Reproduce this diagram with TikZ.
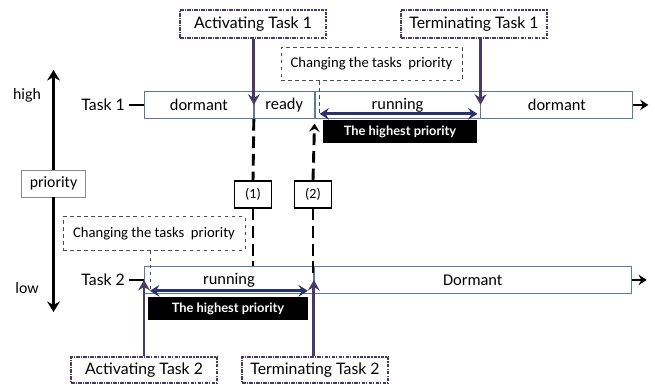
\documentclass[tikz,border=0pt]{standalone}
\usepackage{fontspec}
\setmainfont{Carlito}
\newfontfamily\gillfont{Lato}
\usetikzlibrary{positioning, arrows.meta}

\definecolor{barline}{RGB}{90,120,160}
\definecolor{evtline}{RGB}{72,58,102}
\definecolor{prioline}{RGB}{40,50,110}

\tikzset{
  phase/.style={draw=barline, line width=0.7pt, minimum height=0.81cm, inner sep=0pt, font=\fontsize{14}{16}\selectfont},
  event/.style={draw=evtline, line width=1.2pt, dash pattern=on 3pt off 1pt on 1pt off 1pt, minimum width=4.38cm, minimum height=0.84cm, inner sep=0pt, font=\gillfont\fontsize{13.5}{16}\selectfont},
  change/.style={draw=black!70, dashed, line width=0.6pt, minimum height=1cm, inner sep=0pt, font=\fontsize{12.5}{15}\selectfont},
  hibox/.style={fill=black, text=white, minimum height=0.69cm, inner sep=0pt, font=\gillfont\bfseries\fontsize{11}{13}\selectfont},
  numbox/.style={draw, fill=white, line width=1.2pt, minimum width=1.11cm, minimum height=0.81cm, inner sep=0pt, font=\fontsize{12}{14}\selectfont},
  evtarrow/.style={evtline, line width=2.3pt, -{Stealth[length=9pt, width=10pt, inset=3pt]}},
  hiarrow/.style={prioline, line width=2.3pt, {Stealth[length=8pt, width=10pt, inset=3pt]}-{Stealth[length=8pt, width=10pt, inset=3pt]}},
  bararrow/.style={line width=2pt, -{Stealth[length=7pt, width=9pt, inset=2.5pt]}},
  sync/.style={line width=2.5pt, dash pattern=on 10pt off 5pt},
  guide/.style={black!70, dashed, line width=0.6pt},
  label/.style={font=\fontsize{13.5}{16}\selectfont},
}

\begin{document}
\begin{tikzpicture}[x=0.03cm, y=-0.03cm]
  \useasboundingbox (0,0) rectangle (655,383);

  % task 1 time line
  \node [phase, minimum width=3.27cm, anchor=north west] (t1dorm) at (144,91) {dormant};
  \node [phase, minimum width=1.8cm, right=0cm of t1dorm] (t1ready) {ready};
  \node [phase, minimum width=4.95cm, right=0cm of t1ready] (t1run) {running};
  \node [phase, minimum width=4.56cm, right=0cm of t1run] (t1dorm2) {dormant};
  \coordinate [right=0.45cm of t1dorm2.east] (t1end);
  \draw [bararrow] (t1dorm2.east) -- (t1end);

  % task 2 time line
  \node [phase, minimum width=5.07cm, anchor=north west] (t2run) at (144,266) {running};
  \node [phase, minimum width=9.51cm, right=0cm of t2run] (t2dorm) {Dormant};
  \coordinate [right=0.45cm of t2dorm.east] (t2end);
  \draw [bararrow] (t2dorm.east) -- (t2end);

  \node [left=0.45cm of t1dorm, font=\gillfont\fontsize{13.5}{16}\selectfont] (t1lab) {Task 1};
  \node [left=0.45cm of t2run, font=\gillfont\fontsize{13.5}{16}\selectfont] (t2lab) {Task 2};
  \draw [line width=2pt] (t1lab.east) -- (t1dorm.west);
  \draw [line width=2pt] (t2lab.east) -- (t2run.west);

  % priority axis
  \node [label] (high) at (27,95) {high};
  \node [label] (low) at (27,288) {low};
  \node [draw=black!45, line width=0.7pt, fill=white, minimum width=1.92cm, minimum height=0.81cm, inner sep=0pt, label] (prio) at (53.5,183.5) {priority};
  \coordinate (hightip) at (53.5,70);
  \coordinate (lowtip) at (53.5,312);
  \draw [line width=2.3pt, -{Stealth[length=9pt, width=11pt, inset=3pt]}] (prio.north) -- (hightip);
  \draw [line width=2.3pt, -{Stealth[length=9pt, width=11pt, inset=3pt]}] (prio.south) -- (lowtip);

  % priority changes
  \node [change, minimum width=5.43cm] (chg1) at (371.5,64) {Changing the tasks\ \ priority};
  \node [change, minimum width=5.46cm] (chg2) at (154,233.5) {Changing the tasks\ \ priority};
  \coordinate (hi1l) at ([shift={(5,-5)}]t1run.south west);
  \coordinate (hi1r) at ([shift={(-3,-5)}]t1run.south east);
  \coordinate (hi2l) at ([shift={(6,-3)}]t2run.south west);
  \coordinate (hi2r) at ([shift={(-6,-3)}]t2run.south east);
  \draw [guide] (chg1.south -| hi1l) -- (hi1l);
  \draw [guide] (chg2.south -| hi2l) -- (hi2l);
  \draw [hiarrow] (hi1l) -- (hi1r);
  \draw [hiarrow] (hi2l) -- (hi2r);
  \node [hibox, minimum width=4.62cm] (hi1) at (400,131.5) {The highest priority};
  \node [hibox, minimum width=4.8cm] (hi2) at (228,308.5) {The highest priority};

  % synchronisation
  \node [numbox] (n1) at (253,194.5) {(1)};
  \node [numbox] (n2) at (313,194.5) {(2)};
  \draw [sync] (t1dorm.south east) -- (n1.north);
  \draw [sync] (n1.south) -- (n1.south |- t2run.north);
  \draw [sync, shorten >=4pt, -{Stealth[length=7pt, width=9pt, inset=2.5pt]}] (n2.north) -- (t1ready.south east);
  \draw [sync, shorten >=-6pt] (n2.south) -- (n2.south |- t2run.north);

  % events
  \node [event] (act1) at (253,24) {Activating Task 1};
  \node [event] (term1) at (474,24) {Terminating Task 1};
  \node [event, minimum height=0.78cm] (act2) at (144,370) {Activating Task 2};
  \node [event, minimum height=0.78cm] (term2) at (315,370) {Terminating Task 2};
  \draw [evtarrow] (act1.south -| t1dorm.east) -- (t1dorm.east);
  \draw [evtarrow] (term1.south -| t1run.east) -- (t1run.east);
  \draw [evtarrow] (act2.north -| t2run.west) -- (t2run.west);
  \draw [evtarrow] (term2.north -| t2run.east) -- (t2run.east);
\end{tikzpicture}
\end{document}
